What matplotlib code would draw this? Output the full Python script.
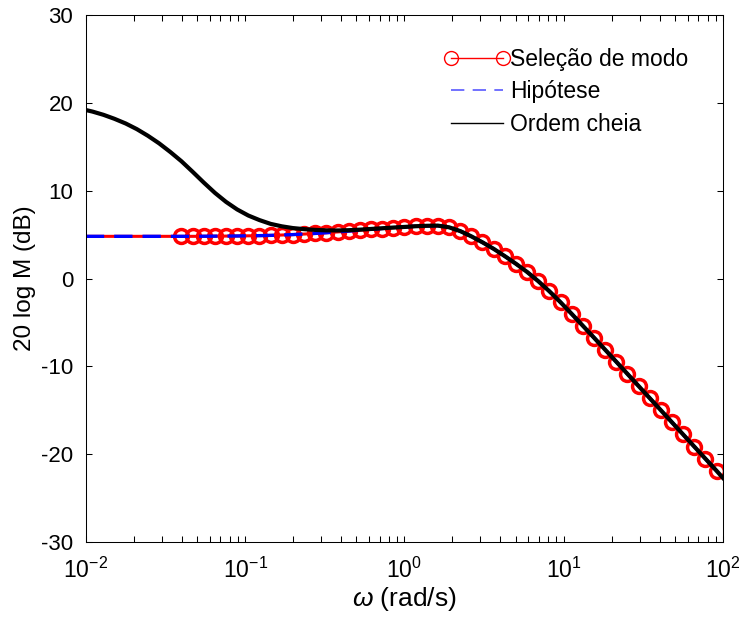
import matplotlib
matplotlib.use("Agg")
import matplotlib.pyplot as plt
from matplotlib.lines import Line2D
from matplotlib.ticker import FixedLocator, LogLocator, NullFormatter

plt.rcParams['font.family'] = ['Liberation Sans', 'DejaVu Sans']
plt.rcParams['mathtext.fontset'] = 'custom'
plt.rcParams['mathtext.rm'] = 'Liberation Sans'
plt.rcParams['mathtext.it'] = 'Liberation Sans:italic'
plt.rcParams['axes.unicode_minus'] = False

# Reduced model (Selecao de modo / Hipotese): frequency in rad/s, magnitude in dB
w_red = [0.01,
         0.0398, 0.0468, 0.0550, 0.0646, 0.0759, 0.0891, 0.1047, 0.1230, 0.1445,
         0.1698, 0.1995, 0.2344, 0.2754, 0.3236, 0.3802, 0.4467, 0.5248, 0.6166,
         0.7244, 0.8511, 1.0, 1.175, 1.380, 1.622, 1.905, 2.239, 2.630, 3.090,
         3.631, 4.266, 5.012, 5.888, 6.918, 8.128, 9.550, 11.22, 13.18, 15.49,
         18.20, 21.38, 25.12, 29.51, 34.67, 40.74, 47.86, 56.23, 66.07, 77.62,
         91.20]
mag_red = [4.80,
           4.80, 4.80, 4.81, 4.82, 4.83, 4.84, 4.86, 4.88, 4.91,
           4.95, 5.00, 5.06, 5.13, 5.21, 5.30, 5.40, 5.50, 5.60,
           5.69, 5.78, 5.87, 5.95, 6.00, 6.02, 5.83, 5.40, 4.80, 4.12,
           3.38, 2.55, 1.68, 0.75, -0.30, -1.45, -2.70, -4.02, -5.37, -6.73,
           -8.10, -9.47, -10.85, -12.23, -13.61, -14.99, -16.37, -17.75, -19.13, -20.51,
           -21.89]

# Full order model (Ordem cheia)
w_full = [0.00933, 0.0110, 0.0129, 0.0151, 0.0178, 0.0209, 0.0245, 0.0288, 0.0339,
          0.0398, 0.0468, 0.0550, 0.0646, 0.0759, 0.0891, 0.1047, 0.1230, 0.1445,
          0.1698, 0.1995, 0.2344, 0.2754, 0.3236, 0.3802, 0.4467, 0.5248, 0.6166,
          0.7244, 0.8511, 1.0, 1.175, 1.380, 1.622, 1.905, 2.239, 2.630, 3.090,
          3.631, 4.266, 5.012, 5.888, 6.918, 8.128, 9.550, 11.22, 13.18, 15.49,
          18.20, 21.38, 25.12, 29.51, 34.67, 40.74, 47.86, 56.23, 66.07, 77.62,
          91.20, 100.0]
mag_full = [19.30, 19.00, 18.63, 18.18, 17.64, 17.00, 16.25, 15.39, 14.40,
            13.35, 12.15, 10.92, 9.75, 8.72, 7.86, 7.17, 6.65, 6.22,
            5.94, 5.74, 5.62, 5.53, 5.48, 5.47, 5.50, 5.56, 5.64,
            5.72, 5.80, 5.87, 5.95, 6.00, 6.02, 5.83, 5.40, 4.80, 4.12,
            3.38, 2.55, 1.68, 0.75, -0.30, -1.45, -2.70, -4.02, -5.37, -6.73,
            -8.10, -9.47, -10.85, -12.23, -13.61, -14.99, -16.37, -17.75, -19.13, -20.51,
            -21.89, -22.70]

y_ticks = [-30, -20, -10, 0, 10, 20, 30]
x_ticks = [0.01, 0.1, 1, 10, 100]
x_labels = ['$10^{-2}$', '$10^{-1}$', '$10^{0}$', '$10^{1}$', '$10^{2}$']
legend_labels = ['Seleção de modo', 'Hipótese', 'Ordem cheia']

fig = plt.figure(figsize=(7.4, 6.21), dpi=100)
ax = fig.add_axes([0.116, 0.127, 0.861, 0.849])

ax.plot(w_red, mag_red, color='red', lw=2.2, marker='o', markersize=10,
        markerfacecolor='none', markeredgewidth=2.5,
        markevery=list(range(1, len(w_red))))
ax.plot(w_red, mag_red, color='blue', lw=2.4, linestyle=(0, (5.5, 3.0)))
ax.plot(w_full, mag_full, color='black', lw=3.0)

ax.set_xscale('log')
ax.set_xlim(0.01, 100)
ax.set_ylim(-30, 30)
ax.xaxis.set_major_locator(FixedLocator(x_ticks))
ax.set_xticklabels(x_labels)
ax.xaxis.set_minor_locator(LogLocator(base=10, subs=range(2, 10)))
ax.xaxis.set_minor_formatter(NullFormatter())
ax.set_yticks(y_ticks)
ax.set_yticklabels([str(v) for v in y_ticks])

ax.tick_params(which='both', direction='in', top=True, right=True,
               length=4.5, width=0.75, labelsize=16)
ax.tick_params(axis='x', labelsize=16.5, pad=11)
ax.tick_params(axis='y', pad=9)
for s in ax.spines.values():
    s.set_linewidth(0.75)

ax.set_xlabel(r'$\omega$ (rad/s)', fontsize=19, labelpad=2)
ax.set_ylabel('20 log M (dB)', fontsize=17.5, labelpad=4)

# legend with thin lines like the original
handles = [
    Line2D([], [], color='red', lw=1.0, marker='o', markersize=10,
           markerfacecolor='none', markeredgewidth=1.0),
    Line2D([], [], color=(0.35, 0.35, 1.0), lw=1.2, linestyle=(0, (8, 5))),
    Line2D([], [], color='black', lw=1.0),
]
fig.legend(handles, legend_labels, loc='upper left',
           bbox_to_anchor=(0.600, 0.923), frameon=False, fontsize=16.5,
           numpoints=2, handlelength=2.87, handletextpad=0.02,
           labelspacing=0.42, borderpad=0, borderaxespad=0)

fig.savefig('out.png', dpi=100)
